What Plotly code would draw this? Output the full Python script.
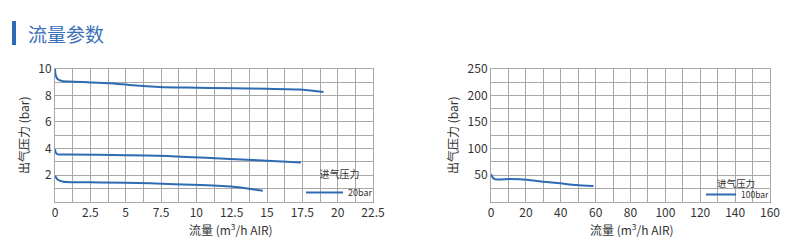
import plotly.graph_objects as go

# ---- data ----
left_x_ticks = [0, 2.5, 5, 7.5, 10, 12.5, 15, 17.5, 20, 22.5]
left_y_ticks = [2, 4, 6, 8, 10]
right_x_ticks = [0, 20, 40, 60, 80, 100, 120, 140, 160]
right_y_ticks = [50, 100, 150, 200, 250]

c1_x = [0, 0.05, 0.2, 0.5, 1.0, 2.5, 3.9, 5.5, 7.4, 9.3, 12.6, 15.0, 17.3, 19.0]
c1_y = [10, 9.5, 9.2, 9.08, 9.03, 8.97, 8.9, 8.75, 8.63, 8.58, 8.53, 8.5, 8.43, 8.25]
c2_x = [0, 0.05, 0.2, 0.85, 5.1, 7.9, 10.7, 14.0, 17.4]
c2_y = [3.95, 3.7, 3.56, 3.55, 3.5, 3.43, 3.3, 3.13, 2.95]
c3_x = [0, 0.2, 0.6, 3.2, 6.7, 10.3, 12.6, 13.6, 14.7]
c3_y = [1.95, 1.65, 1.5, 1.45, 1.38, 1.25, 1.13, 1.0, 0.83]
r_x = [0, 1.1, 2.5, 11, 20.6, 30, 39.7, 49, 58.8]
r_y = [52, 45, 42, 42.6, 41.4, 37.6, 34.5, 31.3, 29.4]

legend_title = "进气压力"
left_name = "20bar"
right_name = "100bar"

BLUE = "#2e6bb3"
GRID = "#a8a8a8"
TXT = "#333333"
FONT = "Noto Sans CJK SC"

fig = go.Figure()
for i, (xs, ys) in enumerate([(c1_x, c1_y), (c2_x, c2_y), (c3_x, c3_y)]):
    fig.add_trace(go.Scatter(x=xs, y=ys, mode="lines", line=dict(color=BLUE, width=2, shape="spline", smoothing=0.6),
                             name=left_name, showlegend=(i == 0), legend="legend", xaxis="x", yaxis="y"))
fig.add_trace(go.Scatter(x=r_x, y=r_y, mode="lines", line=dict(color=BLUE, width=2, shape="spline", smoothing=0.6),
                         name=right_name, legend="legend2", xaxis="x2", yaxis="y2"))

ax_common = dict(showgrid=True, gridcolor=GRID, gridwidth=1, showline=True, linecolor=GRID, linewidth=1,
                 mirror=True, zeroline=False, ticks="", automargin=False,
                 tickfont=dict(size=12, color=TXT, family=FONT))
YD = [1 - 201.7/250, 1 - 68.7/250]
XTITLE = "流量 (m<sup>3</sup>/h AIR)"
YTITLE = "出气压力 (bar)"

fig.update_layout(
    width=800, height=250, margin=dict(l=0, r=0, t=0, b=0, autoexpand=False),
    paper_bgcolor="white", plot_bgcolor="white",
    font=dict(family=FONT, color=TXT),
    xaxis=dict(domain=[55/800, 373/800], range=[0, 22.5], tickvals=left_x_ticks,
               minor=dict(dtick=1.25, tick0=0, showgrid=True, gridcolor=GRID, gridwidth=1),
               anchor="y", **ax_common),
    yaxis=dict(domain=YD, range=[0, 10], tickvals=left_y_ticks,
               minor=dict(dtick=1, tick0=0, showgrid=True, gridcolor=GRID, gridwidth=1),
               title=dict(text=YTITLE, font=dict(size=12, color=TXT), standoff=6),
               anchor="x", **ax_common),
    xaxis2=dict(domain=[491/800, 770/800], range=[0, 160], tickvals=right_x_ticks,
                minor=dict(dtick=10, tick0=0, showgrid=True, gridcolor=GRID, gridwidth=1),
                anchor="y2", **ax_common),
    yaxis2=dict(domain=YD, range=[0, 250], tickvals=right_y_ticks,
                minor=dict(dtick=25, tick0=0, showgrid=True, gridcolor=GRID, gridwidth=1),
                title=dict(text=YTITLE, font=dict(size=12, color=TXT), standoff=6),
                anchor="x2", **ax_common),
    legend=dict(x=301/800, y=1 - 165/250, xanchor="left", yanchor="top", bgcolor="rgba(0,0,0,0)",
                title=dict(text=legend_title, side="top center", font=dict(size=10, color=TXT)),
                font=dict(size=9, color=TXT), itemwidth=37, tracegroupgap=0),
    legend2=dict(x=701/800, y=1 - 180/250, xanchor="left", yanchor="top", bgcolor="rgba(0,0,0,0)",
                 font=dict(size=8.5, color=TXT), itemwidth=30, tracegroupgap=0),
    shapes=[
        dict(type="rect", xref="paper", yref="paper", x0=12/800, x1=16/800, y0=1-45/250, y1=1-21/250,
             fillcolor="#2d6bb5", line=dict(width=0)),
        # legend backgrounds covering the grid
        dict(type="rect", xref="paper", yref="paper", x0=302.5/800, x1=372.5/800, y0=1-201/250, y1=1-162.7/250,
             fillcolor="white", line=dict(width=0), layer="between"),
        dict(type="rect", xref="paper", yref="paper", x0=701/800, x1=769.5/800, y0=1-201/250, y1=1-175/250,
             fillcolor="white", line=dict(width=0), layer="between"),
    ],
    annotations=[
        dict(text="流量参数", xref="paper", yref="paper", x=26/800, y=1-33/250, xanchor="left",
             yanchor="middle", showarrow=False, font=dict(size=19, color="#3a70b8", family=FONT)),
        dict(text=legend_title, xref="paper", yref="paper", x=736/800, y=1-182.5/250, xanchor="center",
             yanchor="middle", showarrow=False, font=dict(size=9.5, color=TXT, family=FONT)),
        dict(text=XTITLE, xref="paper", yref="paper", x=231/800, y=1-229/250, xanchor="center",
             yanchor="middle", showarrow=False, font=dict(size=12, color=TXT, family=FONT)),
        dict(text=XTITLE, xref="paper", yref="paper", x=632/800, y=1-229/250, xanchor="center",
             yanchor="middle", showarrow=False, font=dict(size=12, color=TXT, family=FONT)),
    ],
)

fig.write_html("out.html")
